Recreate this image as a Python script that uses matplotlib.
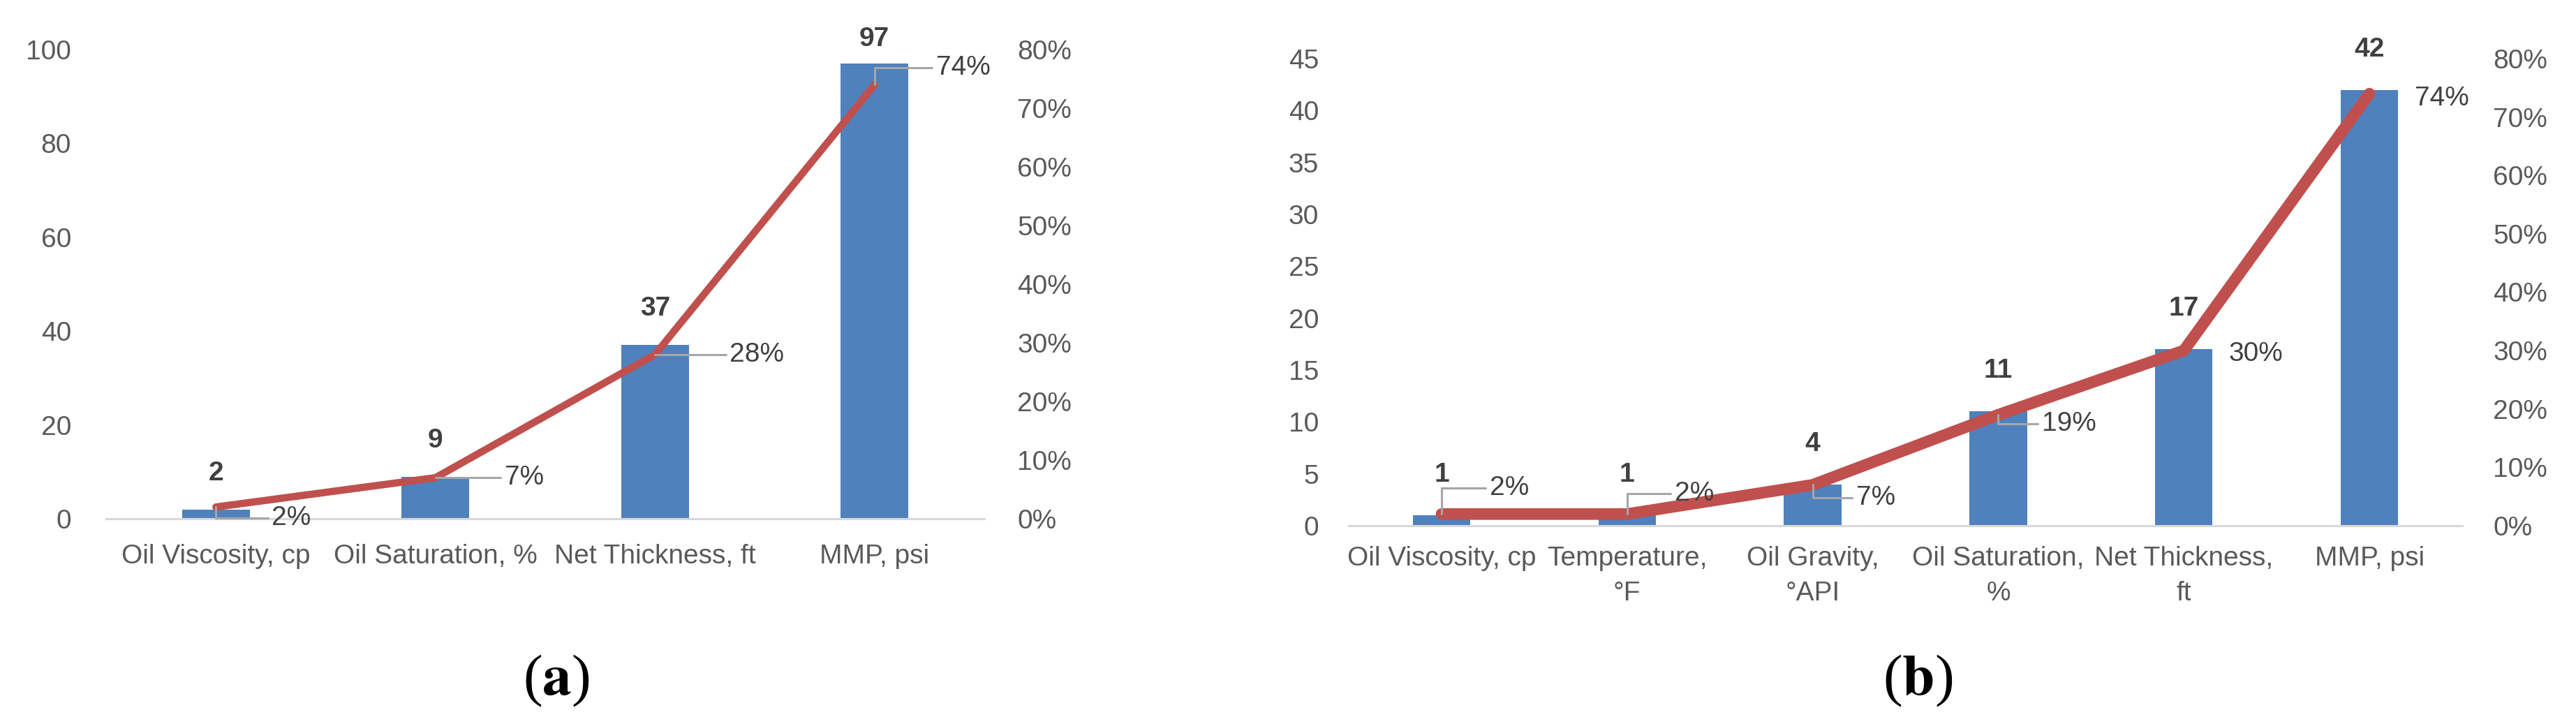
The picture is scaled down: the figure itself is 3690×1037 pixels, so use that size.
import numpy as np
import matplotlib.pyplot as plt
from matplotlib.ticker import PercentFormatter

# panel (a)
cats_a = ['Oil Viscosity, cp', 'Oil Saturation, %', 'Net Thickness, ft', 'MMP, psi']
bars_a = [2, 9, 37, 97]
pct_a = [0.02, 0.07, 0.28, 0.74]

# panel (b)
cats_b = ['Oil Viscosity, cp', 'Temperature,\n°F', 'Oil Gravity,\n°API',
          'Oil Saturation,\n%', 'Net Thickness,\nft', 'MMP, psi']
bars_b = [1, 1, 4, 11, 17, 42]
pct_b = [0.02, 0.02, 0.07, 0.19, 0.30, 0.74]

plt.rcParams['font.family'] = ['Liberation Sans', 'DejaVu Sans']
plt.rcParams['mathtext.fontset'] = 'stix'

BLUE = '#4F81BD'
RED = '#C0504D'
GREY = '#595959'
DARK = '#404040'
FS = 28

fig = plt.figure(figsize=(36.9, 10.37), dpi=100)


def panel(rect, cats, bars, pct, ymax, ystep, lw, bar_off, pct_off, leads, pads, xlsp):
    ax = fig.add_axes(rect)
    x = np.arange(len(cats))
    ax.bar(x, bars, width=0.31, color=BLUE, zorder=2)
    ax.set_xlim(-0.5, len(cats) - 0.5)
    ax.set_ylim(0, ymax)
    ax.set_yticks(np.arange(0, ymax + 0.1, ystep))
    ax.set_xticks(x)
    ax.set_xticklabels(cats, linespacing=xlsp)
    for s in ['top', 'right', 'left']:
        ax.spines[s].set_visible(False)
    ax.spines['bottom'].set_color('#D9D9D9')
    ax.spines['bottom'].set_linewidth(2.2)
    ax.tick_params(length=0, labelsize=FS, colors=GREY)
    ax.tick_params(axis='y', pad=pads[0])
    ax.tick_params(axis='x', pad=pads[2])

    # cumulative share on the secondary axis
    ax2 = ax.twinx()
    ax2.set_ylim(0, 0.8)
    ax2.set_yticks(np.arange(0, 0.81, 0.1))
    ax2.yaxis.set_major_formatter(PercentFormatter(1.0, decimals=0))
    for s in ax2.spines.values():
        s.set_visible(False)
    ax2.tick_params(length=0, labelsize=FS, colors=GREY, pad=pads[1])
    ax2.plot(x, pct, color=RED, lw=lw, solid_capstyle='round', solid_joinstyle='round', zorder=3)

    for i, v in enumerate(bars):
        ax.annotate(str(v), (x[i], v), xytext=(0, bar_off[i]), textcoords='offset pixels',
                    ha='center', va='center', fontsize=FS, fontweight='bold', color=DARK)
    for i, p in enumerate(pct):
        arrow = None
        if leads[i]:
            arrow = dict(arrowstyle='-', color='#A6A6A6', lw=2.2, relpos=(0, 0.5),
                         shrinkA=2, shrinkB=0,
                         connectionstyle='angle,angleA=0,angleB=90,rad=0')
        ax2.annotate(f'{p:.0%}', (x[i], p), xytext=pct_off[i], textcoords='offset pixels',
                     ha='center', va='center', fontsize=FS, color=DARK, arrowprops=arrow,
                     zorder=4)
    return ax


panel([152 / 3690, 1 - 743 / 1037, (1410 - 152) / 3690, (743 - 71) / 1037],
      cats_a, bars_a, pct_a, 100, 20, 7.5,
      [52, 52, 52, 35],
      [(108, -16), (127, 0), (146, 0), (127, 24)],
      [True, True, True, True], (36, 34, 26), 1.2)

panel([1932 / 3690, 1 - 753 / 1037, (3527 - 1932) / 3690, (753 - 84) / 1037],
      cats_b, bars_b, pct_b, 45, 5, 12,
      [58, 58, 58, 58, 58, 58],
      [(97, 37), (96, 29), (90, -19), (101, -13), (103, -5), (104, -7)],
      [True, True, True, True, False, False], (31, 32, 21), 1.5)

fig.text(797 / 3690, 1 - 975 / 1037, r'($\mathbf{a}$)', ha='center', va='center',
         fontsize=60, family=['Liberation Serif', 'DejaVu Serif'])
fig.text(2747 / 3690, 1 - 975 / 1037, r'($\mathbf{b}$)', ha='center', va='center',
         fontsize=60, family=['Liberation Serif', 'DejaVu Serif'])

fig.savefig('out.png', dpi=100)
